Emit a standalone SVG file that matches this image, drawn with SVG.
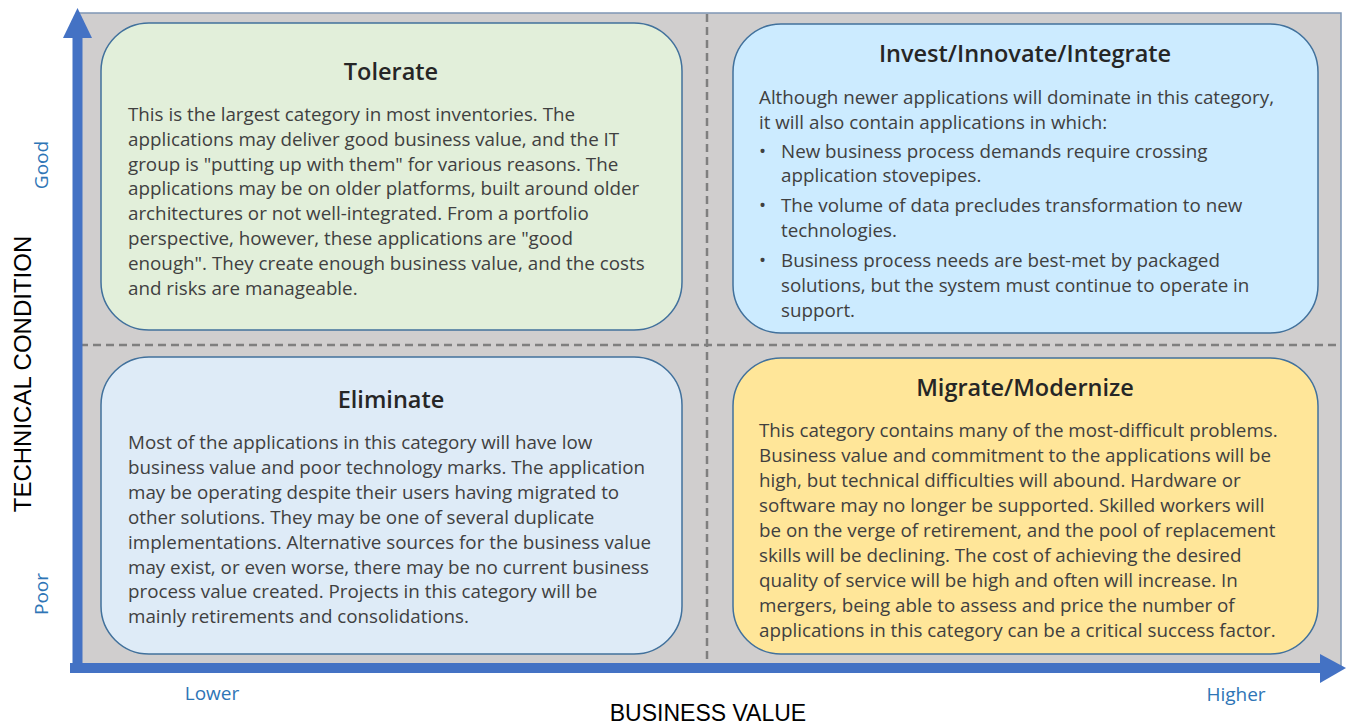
<svg xmlns="http://www.w3.org/2000/svg" width="1346" height="725" viewBox="0 0 1346 725">
<style>
.box{stroke:#41719C;stroke-width:1.5}
.title{font-family:"Open Sans","Noto Sans",sans-serif;font-weight:600;font-size:23.5px;fill:#262626;text-anchor:middle}
.body{font-family:"Open Sans","Noto Sans",sans-serif;font-size:18.8px;fill:#404040}
.axis{font-family:"Liberation Sans",Arial,sans-serif;font-size:23px;fill:#000;text-anchor:middle}
.lbl{font-family:"Open Sans","Noto Sans",sans-serif;font-size:19px;fill:#2E75B6;text-anchor:middle}
.dash{stroke:#7F7F7F;stroke-width:2.5;stroke-dasharray:8 5;fill:none}
</style>
<rect x="78" y="13" width="1263" height="653" fill="#D0CECE" stroke="#7F97B5" stroke-width="1.5"/>
<g id="dividers">
<line class="dash" x1="707" y1="14" x2="707" y2="664"/>
<line class="dash" x1="80" y1="345" x2="1340" y2="345"/>
</g>
<g id="tolerate">
<rect class="box" x="101" y="23" width="581" height="307" rx="48" fill="#E2EFDA"/>
<text class="title" x="391" y="80">Tolerate</text>
<text class="body" x="128" y="121">This is the largest category in most inventories. The</text>
<text class="body" x="128" y="146">applications may deliver good business value, and the IT</text>
<text class="body" x="128" y="171">group is "putting up with them" for various reasons. The</text>
<text class="body" x="128" y="195">applications may be on older platforms, built around older</text>
<text class="body" x="128" y="220">architectures or not well-integrated. From a portfolio</text>
<text class="body" x="128" y="245">perspective, however, these applications are "good</text>
<text class="body" x="128" y="270">enough". They create enough business value, and the costs</text>
<text class="body" x="128" y="295">and risks are manageable.</text>
</g>
<g id="invest">
<rect class="box" x="733" y="24" width="585" height="309" rx="48" fill="#CCEBFF"/>
<text class="title" x="1025" y="62">Invest/Innovate/Integrate</text>
<text class="body" x="759" y="104">Although newer applications will dominate in this category,</text>
<text class="body" x="759" y="129">it will also contain applications in which:</text>
<text class="body" x="759" y="158">•</text>
<text class="body" x="781" y="158">New business process demands require crossing</text>
<text class="body" x="781" y="182">application stovepipes.</text>
<text class="body" x="759" y="212">•</text>
<text class="body" x="781" y="212">The volume of data precludes transformation to new</text>
<text class="body" x="781" y="237">technologies.</text>
<text class="body" x="759" y="267">•</text>
<text class="body" x="781" y="267">Business process needs are best-met by packaged</text>
<text class="body" x="781" y="292">solutions, but the system must continue to operate in</text>
<text class="body" x="781" y="317">support.</text>
</g>
<g id="eliminate">
<rect class="box" x="101" y="357" width="581" height="297" rx="48" fill="#DEEBF7"/>
<text class="title" x="391" y="408">Eliminate</text>
<text class="body" x="128" y="449">Most of the applications in this category will have low</text>
<text class="body" x="128" y="474">business value and poor technology marks. The application</text>
<text class="body" x="128" y="499">may be operating despite their users having migrated to</text>
<text class="body" x="128" y="524">other solutions. They may be one of several duplicate</text>
<text class="body" x="128" y="549">implementations. Alternative sources for the business value</text>
<text class="body" x="128" y="574">may exist, or even worse, there may be no current business</text>
<text class="body" x="128" y="598">process value created. Projects in this category will be</text>
<text class="body" x="128" y="623">mainly retirements and consolidations.</text>
</g>
<g id="migrate">
<rect class="box" x="733" y="358" width="585" height="296" rx="48" fill="#FFE699"/>
<text class="title" x="1025" y="396">Migrate/Modernize</text>
<text class="body" x="759" y="437">This category contains many of the most-difficult problems.</text>
<text class="body" x="759" y="462">Business value and commitment to the applications will be</text>
<text class="body" x="759" y="487">high, but technical difficulties will abound. Hardware or</text>
<text class="body" x="759" y="512">software may no longer be supported. Skilled workers will</text>
<text class="body" x="759" y="537">be on the verge of retirement, and the pool of replacement</text>
<text class="body" x="759" y="562">skills will be declining. The cost of achieving the desired</text>
<text class="body" x="759" y="587">quality of service will be high and often will increase. In</text>
<text class="body" x="759" y="612">mergers, being able to assess and price the number of</text>
<text class="body" x="759" y="637">applications in this category can be a critical success factor.</text>
</g>
<g id="axes" fill="#4472C4">
<rect x="72.5" y="34" width="10" height="639"/>
<polygon points="63,38 77.5,8 92,38"/>
<rect x="70" y="663" width="1252" height="10"/>
<polygon points="1320,654 1346,668 1320,683"/>
</g>
<g id="labels">
<text class="axis" font-size="24" style="font-size:24px" transform="translate(30.5,374) rotate(-90)">TECHNICAL CONDITION</text>
<text class="axis" x="708" y="721">BUSINESS VALUE</text>
<text class="lbl" transform="translate(48,165) rotate(-90)">Good</text>
<text class="lbl" transform="translate(48,594) rotate(-90)">Poor</text>
<text class="lbl" x="212" y="700">Lower</text>
<text class="lbl" x="1236" y="701">Higher</text>
</g>
</svg>
